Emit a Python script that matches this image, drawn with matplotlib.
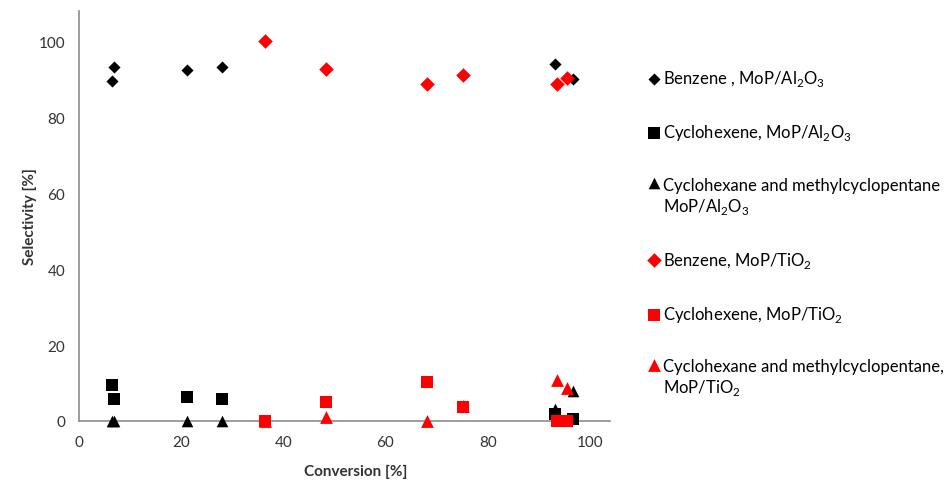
import numpy as np
import matplotlib.pyplot as plt
from matplotlib.legend_handler import HandlerPathCollection

plt.rcParams['font.family'] = ['Lato', 'DejaVu Sans']

# MoP/Al2O3 catalyst
convAl = [6.5, 6.8, 21.1, 28.0, 93.1, 96.8]
benzeneAl = [89.5, 93.3, 92.6, 93.3, 94.1, 90.2]
cyclohexeneAl = [9.4, 5.8, 6.2, 5.8, 1.8, 0.4]
cyclohexaneAl = [0.0, 0.0, 0.0, 0.0, 3.1, 7.9]

# MoP/TiO2 catalyst
convTi = [36.5, 48.3, 68.2, 75.2, 93.6, 95.6]
benzeneTi = [100.0, 92.8, 88.9, 91.1, 88.7, 90.4]
cyclohexeneTi = [0.0, 4.9, 10.3, 3.8, 0.0, 0.0]
cyclohexaneTi = [0.0, 1.0, 0.0, 4.0, 10.8, 8.8]

al = r"MoP/Al$_\mathregular{2}$O$_\mathregular{3}$"
ti = r"MoP/TiO$_\mathregular{2}$"

fig = plt.figure(figsize=(9.52, 4.85), dpi=100)
ax = fig.add_axes([0.083, 0.13, 0.558, 0.845])

ax.scatter(convAl, benzeneAl, marker='D', s=38, c='black', linewidths=0,
           label="Benzene , " + al, clip_on=False, zorder=3)
ax.scatter(convAl, cyclohexeneAl, marker='s', s=75, c='black', linewidths=0,
           label="Cyclohexene, " + al, clip_on=False, zorder=3)
triAl = ax.scatter(convAl, cyclohexaneAl, marker='^', s=70, c='black', linewidths=0,
                   label="Cyclohexane and methylcyclopentane\n" + al, clip_on=False, zorder=3)
ax.scatter(convTi, benzeneTi, marker='D', s=55, c='#ff0000', linewidths=0,
           label="Benzene, " + ti, clip_on=False, zorder=3)
ax.scatter(convTi, cyclohexeneTi, marker='s', s=75, c='#ff0000', linewidths=0,
           label="Cyclohexene, " + ti, clip_on=False, zorder=3)
triTi = ax.scatter(convTi, cyclohexaneTi, marker='^', s=85, c='#ff0000', linewidths=0,
                   label="Cyclohexane and methylcyclopentane,\n" + ti, clip_on=False, zorder=3)

ax.set_xlim(0, 104)
ax.set_ylim(0, 108)
ax.set_xticks(np.arange(0, 101, 20))
ax.set_yticks(np.arange(0, 101, 20))
ax.tick_params(length=0, labelsize=11, colors='#333333', pad=10)
for side in ['top', 'right']:
    ax.spines[side].set_visible(False)
for side in ['left', 'bottom']:
    ax.spines[side].set_color('#8c8c8c')
    ax.spines[side].set_linewidth(1.2)

ax.set_xlabel("Conversion [%]", fontsize=11, fontweight='bold', color='#333333')
ax.set_ylabel("Selectivity [%]", fontsize=11, fontweight='bold', color='#333333')
ax.xaxis.set_label_coords(0.52, -0.105)
ax.yaxis.set_label_coords(-0.08, 0.5)

# two-line entries: put the marker next to the first line
firstLine = HandlerPathCollection(yoffsets=[1.65])
fig.legend(loc='upper left', bbox_to_anchor=(0.672, 0.871), frameon=False,
           fontsize=12, labelspacing=2.05, handletextpad=0.1, handlelength=0.9,
           borderaxespad=0, scatterpoints=1,
           handler_map={triAl: firstLine, triTi: firstLine})

fig.savefig("out.png", dpi=100)
